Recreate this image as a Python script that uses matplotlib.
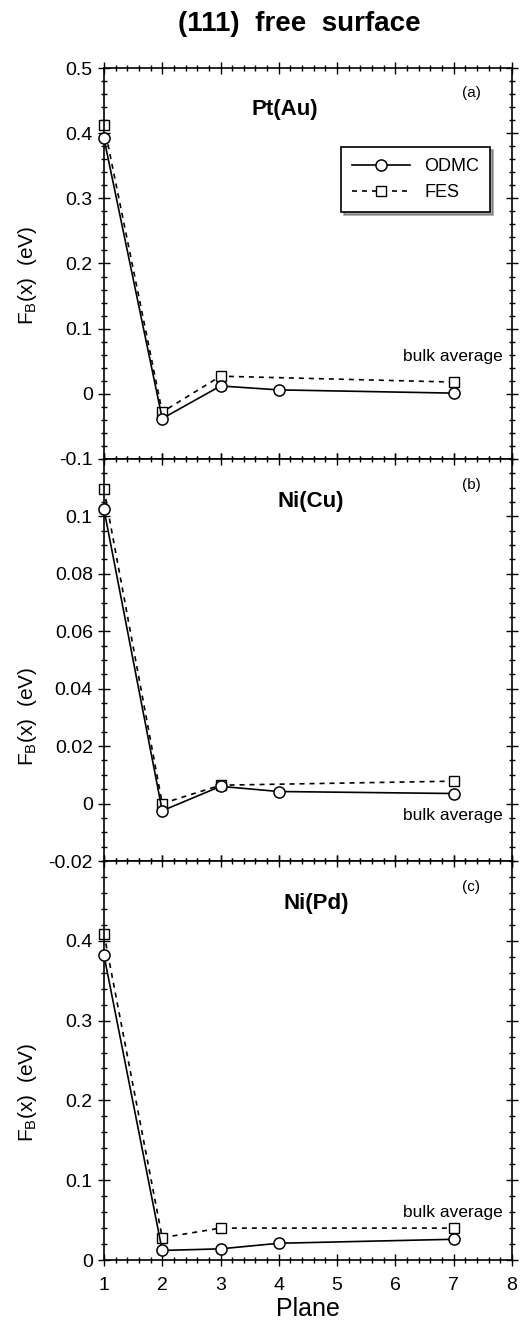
import matplotlib
matplotlib.use("Agg")
import matplotlib.pyplot as plt
from matplotlib.ticker import MultipleLocator

plt.rcParams['font.family'] = ['Liberation Sans', 'DejaVu Sans']
plt.rcParams['mathtext.default'] = 'regular'

# data
planes_odmc = [1, 2, 3, 4, 7]
planes_fes = [1, 2, 3, 7]

ptau_odmc = [0.392, -0.038, 0.012, 0.006, 0.001]
ptau_fes = [0.413, -0.028, 0.027, 0.018]

nicu_odmc = [0.1025, -0.0025, 0.006, 0.0042, 0.0035]
nicu_fes = [0.1095, 0.0, 0.0064, 0.0078]

nipd_odmc = [0.382, 0.012, 0.014, 0.021, 0.026]
nipd_fes = [0.409, 0.028, 0.040, 0.040]

names = ["Pt(Au)", "Ni(Cu)", "Ni(Pd)"]
tags = ["(a)", "(b)", "(c)"]
odmc = [ptau_odmc, nicu_odmc, nipd_odmc]
fes = [ptau_fes, nicu_fes, nipd_fes]

ylims = [(-0.1, 0.5), (-0.02, 0.12), (0.0, 0.5)]
yticks = [[-0.1, 0, 0.1, 0.2, 0.3, 0.4, 0.5],
          [-0.02, 0, 0.02, 0.04, 0.06, 0.08, 0.1],
          [0, 0.1, 0.2, 0.3, 0.4]]
ylabels = [["-0.1", "0", "0.1", "0.2", "0.3", "0.4", "0.5"],
           ["-0.02", "0", "0.02", "0.04", "0.06", "0.08", "0.1"],
           ["0", "0.1", "0.2", "0.3", "0.4"]]
yminor = [0.02, 0.005, 0.02]
bulk_y = [0.057, -0.004, 0.06]
name_x = [0.444, 0.507, 0.52]
ylab_y = [0.47, 0.36, 0.42]

fig = plt.figure(figsize=(5.25, 13.23), dpi=100)
left, width = 0.198, 0.777
bounds = [0.9486, 0.6531, 0.3492, 0.0476]

for i in range(3):
    ax = fig.add_axes([left, bounds[i + 1], width, bounds[i] - bounds[i + 1]])
    ax.plot(planes_odmc, odmc[i], color="black", lw=1.2, marker="o", ms=8,
            mfc="white", mec="black", mew=1.1, label="ODMC", clip_on=False, zorder=3)
    ax.plot(planes_fes, fes[i], color="black", lw=1.2, ls=(0, (3, 3)), marker="s", ms=6.5,
            mfc="white", mec="black", mew=1.0, label="FES", clip_on=False, zorder=2)
    ax.set_xlim(1, 8)
    ax.set_ylim(*ylims[i])
    ax.set_xticks(range(1, 9))
    ax.xaxis.set_minor_locator(MultipleLocator(0.2))
    ax.set_yticks(yticks[i])
    ax.set_yticklabels(ylabels[i])
    ax.yaxis.set_minor_locator(MultipleLocator(yminor[i]))
    ax.tick_params(which="both", direction="inout", top=True, right=True,
                   labelsize=14, width=1.0)
    ax.tick_params(which="major", length=9)
    ax.tick_params(which="minor", length=5)
    ax.tick_params(axis="x", pad=8)
    for s in ax.spines.values():
        s.set_linewidth(1.2)
    if i < 2:
        ax.set_xticklabels([])
    else:
        ax.set_xlabel("Plane", fontsize=18, labelpad=2)
    ax.set_ylabel("$F_B$(x)  (eV)", fontsize=15)
    ax.yaxis.set_label_coords(-0.16, ylab_y[i])
    ax.text(name_x[i], 0.893, names[i], transform=ax.transAxes, ha="center", va="center",
            fontsize=16, fontweight="bold")
    ax.text(0.9, 0.935, tags[i], transform=ax.transAxes, ha="center", va="center",
            fontsize=11)
    ax.text(7.85, bulk_y[i], "bulk average", ha="right", va="center", fontsize=12.5)
    if i == 0:
        leg = ax.legend(loc="upper left", bbox_to_anchor=(0.56, 0.82), frameon=True,
                        fancybox=False, shadow=True, edgecolor="black", framealpha=1,
                        fontsize=13, handlelength=3.2, borderpad=0.6)
        leg.get_frame().set_linewidth(1.2)

fig.text(0.57, 0.982, "(111)  free  surface", ha="center", va="center",
         fontsize=20, fontweight="bold")

fig.savefig("out.png", dpi=100)
